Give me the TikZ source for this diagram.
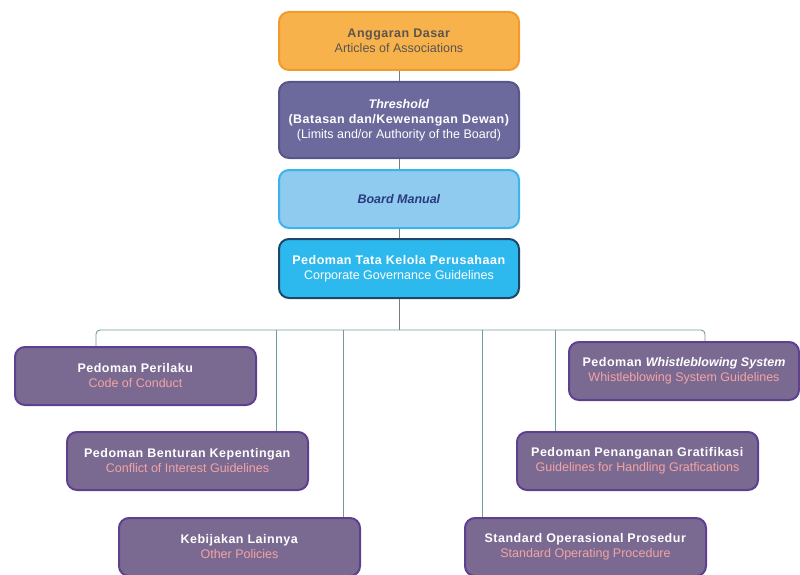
\documentclass[tikz,border=0pt]{standalone}
\usepackage{fontspec}
\setmainfont{Liberation Sans}[BoldFeatures={LetterSpace=4}]
\definecolor{orfill}{HTML}{F8B24C}
\definecolor{ordraw}{HTML}{F39A2C}
\definecolor{orfont}{HTML}{5A5550}
\definecolor{slfill}{HTML}{6C6A9C}
\definecolor{sldraw}{HTML}{57558A}
\definecolor{lbfill}{HTML}{8FCBEF}
\definecolor{lbdraw}{HTML}{3CB3EA}
\definecolor{lbfont}{HTML}{2A3A7E}
\definecolor{cyfill}{HTML}{2DB9EE}
\definecolor{cydraw}{HTML}{1E4668}
\definecolor{pufill}{HTML}{7A6A92}
\definecolor{pudraw}{HTML}{5E3F90}
\definecolor{pink}{HTML}{F4A3A3}
\definecolor{linec}{HTML}{6E9C9C}
\definecolor{linet}{HTML}{7A7A80}
\begin{document}
\begin{tikzpicture}[x=1pt,y=-1pt,
  box/.style={rounded corners=10pt, line width=2pt, align=center, inner sep=0pt,
    minimum width=240pt, minimum height=58pt, font=\fontsize{12.5}{15}\selectfont},
  topbox/.style={box, anchor=north west},
  pbox/.style={box, anchor=north west, fill=pufill, draw=pudraw, text=white},
  conn/.style={draw=linet, line width=0.8pt},
  bconn/.style={draw=linec, line width=0.9pt}]
\useasboundingbox (0,0) rectangle (800,575);
\node[topbox, fill=orfill, draw=ordraw, text=orfont] (ad) at (278,11)
  {\textbf{Anggaran Dasar}\\Articles of Associations};
\node[topbox, fill=slfill, draw=sldraw, text=white, minimum height=76pt] (th) at (278,81)
  {\textbf{\textit{Threshold}}\\\textbf{(Batasan dan/Kewenangan Dewan)}\\(Limits and/or Authority of the Board)};
\node[topbox, fill=lbfill, draw=lbdraw, text=lbfont] (bm) at (278,169)
  {\textbf{\textit{Board Manual}}};
\node[topbox, fill=cyfill, draw=cydraw, text=white, minimum height=59pt] (tk) at (278,238)
  {\textbf{Pedoman Tata Kelola Perusahaan}\\Corporate Governance Guidelines};
\draw[conn] (ad.south) -- (th.north);
\draw[conn] (th.south) -- (bm.north);
\draw[conn] (bm.south) -- (tk.north);
% bottom boxes
\node[pbox, minimum width=241pt] (cc) at (14,346)
  {\textbf{Pedoman Perilaku}\\\textcolor{pink}{Code of Conduct}};
\node[pbox, minimum width=241pt] (ci) at (66,431)
  {\textbf{Pedoman Benturan Kepentingan}\\\textcolor{pink}{Conflict of Interest Guidelines}};
\node[pbox, minimum width=241pt] (op) at (118,517)
  {\textbf{Kebijakan Lainnya}\\\textcolor{pink}{Other Policies}};
\node[pbox, minimum width=230pt] (wb) at (568,341)
  {\textbf{Pedoman \textit{Whistleblowing System}}\\\textcolor{pink}{Whistleblowing System Guidelines}};
\node[pbox, minimum width=241pt] (gr) at (516,431)
  {\textbf{Pedoman Penanganan Gratifikasi}\\\textcolor{pink}{Guidelines for Handling Gratfications}};
\node[pbox, minimum width=241pt] (sop) at (464,517)
  {\textbf{Standard Operasional Prosedur}\\\textcolor{pink}{Standard Operating Procedure}};
\coordinate (bus) at (398,330);
\draw[conn] (tk.south) -- (tk.south |- bus);
\draw[bconn, rounded corners=4pt] (cc.north -| 96,0) -- (96,330) -- (705,330) -- (wb.north -| 705,0);
\draw[bconn] (276,330) -- (ci.north -| 276,0);
\draw[bconn] (343,330) -- (op.north -| 343,0);
\draw[bconn] (482,330) -- (sop.north -| 482,0);
\draw[bconn] (555,330) -- (gr.north -| 555,0);
\end{tikzpicture}
\end{document}
